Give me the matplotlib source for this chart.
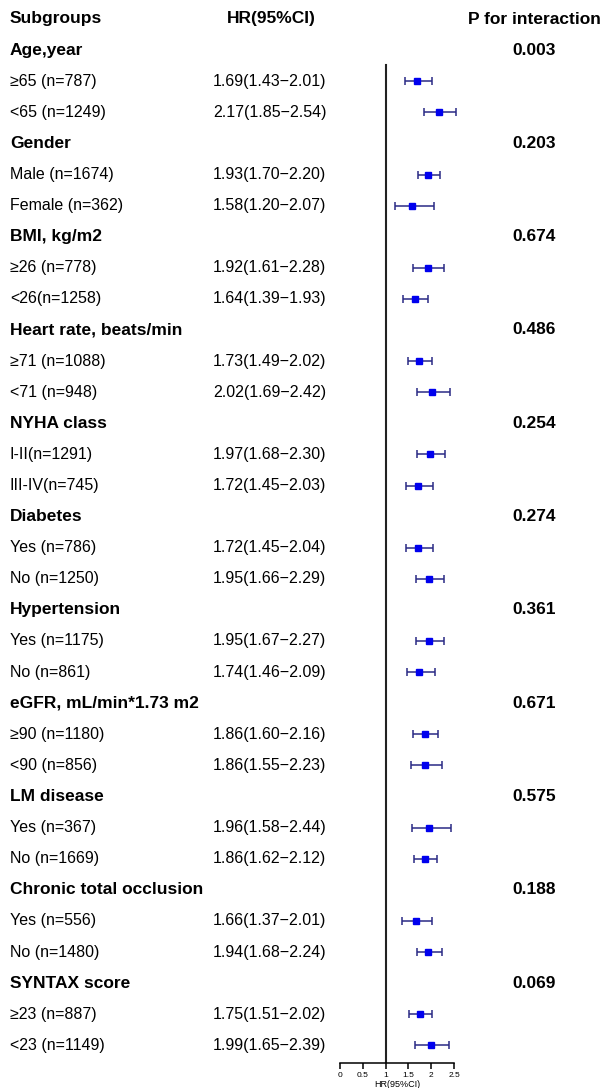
import matplotlib
matplotlib.use("Agg")
import matplotlib.pyplot as plt
import matplotlib.transforms as mtransforms

plt.rcParams['font.family'] = ['Liberation Sans', 'DejaVu Sans']

groups = ["Age,year", "Gender", "BMI, kg/m2", "Heart rate, beats/min", "NYHA class",
          "Diabetes", "Hypertension", "eGFR, mL/min*1.73 m2", "LM disease",
          "Chronic total occlusion", "SYNTAX score"]
p_interaction = ["0.003", "0.203", "0.674", "0.486", "0.254", "0.274", "0.361",
                 "0.671", "0.575", "0.188", "0.069"]
sub_labels = [
    ["≥65 (n=787)", "<65 (n=1249)"],
    ["Male (n=1674)", "Female (n=362)"],
    ["≥26 (n=778)", "<26(n=1258)"],
    ["≥71 (n=1088)", "<71 (n=948)"],
    ["I-II(n=1291)", "III-IV(n=745)"],
    ["Yes (n=786)", "No (n=1250)"],
    ["Yes (n=1175)", "No (n=861)"],
    ["≥90 (n=1180)", "<90 (n=856)"],
    ["Yes (n=367)", "No (n=1669)"],
    ["Yes (n=556)", "No (n=1480)"],
    ["≥23 (n=887)", "<23 (n=1149)"],
]
hr = [[1.69, 2.17], [1.93, 1.58], [1.92, 1.64], [1.73, 2.02], [1.97, 1.72],
      [1.72, 1.95], [1.95, 1.74], [1.86, 1.86], [1.96, 1.86], [1.66, 1.94],
      [1.75, 1.99]]
ci_low = [[1.43, 1.85], [1.70, 1.20], [1.61, 1.39], [1.49, 1.69], [1.68, 1.45],
          [1.45, 1.66], [1.67, 1.46], [1.60, 1.55], [1.58, 1.62], [1.37, 1.68],
          [1.51, 1.65]]
ci_high = [[2.01, 2.54], [2.20, 2.07], [2.28, 1.93], [2.02, 2.42], [2.30, 2.03],
           [2.04, 2.29], [2.27, 2.09], [2.16, 2.23], [2.44, 2.12], [2.01, 2.24],
           [2.02, 2.39]]
x_ticks = [0, 0.5, 1, 1.5, 2, 2.5]

W, H = 606, 1088
fig = plt.figure(figsize=(W / 100, H / 100), dpi=100)

row0_px, row_step = 19.0, 31.1
axis_px = 1063.0
x0_px, x_unit = 340.0, 45.6
ax = fig.add_axes([x0_px / W, (H - axis_px) / H, 2.5 * x_unit / W, axis_px / H])
ax.set_xlim(0, 2.5)
ax.set_ylim((axis_px - row0_px) / row_step, -row0_px / row_step)
ax.patch.set_alpha(0)
for s in ["top", "right", "left"]:
    ax.spines[s].set_visible(False)
ax.spines["bottom"].set_linewidth(1.1)
ax.set_yticks([])
ax.set_xticks(x_ticks)
ax.set_xticklabels([f"{t:g}" for t in x_ticks], fontsize=6)
ax.tick_params(axis="x", direction="out", length=4.5, width=1.1, pad=2)
ax.set_xlabel("HR(95%CI)", fontsize=6.5, labelpad=1)

trans = mtransforms.blended_transform_factory(fig.transFigure, ax.transData)
fs_bold = 12.5
fs = 11.5

ax.text(10 / W, 0, "Subgroups", transform=trans, fontsize=fs_bold, fontweight="bold",
        va="center", ha="left")
ax.text(227 / W, 0, "HR(95%CI)", transform=trans, fontsize=fs_bold, fontweight="bold",
        va="center", ha="left")
ax.text(534 / W, 0, "P for interaction", transform=trans, fontsize=fs_bold,
        fontweight="bold", va="center", ha="center")

ax.axvline(1, ymin=0, ymax=1 - 65 / axis_px, color="#222222", lw=1.5)

row = 1
for g, p, labs, h, lo, hi in zip(groups, p_interaction, sub_labels, hr, ci_low, ci_high):
    ax.text(10 / W, row, g, transform=trans, fontsize=fs_bold, fontweight="bold",
            va="center", ha="left")
    ax.text(534 / W, row, p, transform=trans, fontsize=fs_bold, fontweight="bold",
            va="center", ha="center")
    row += 1
    for lab, v, l, u in zip(labs, h, lo, hi):
        ax.text(10 / W, row, lab, transform=trans, fontsize=fs, va="center", ha="left")
        ax.text(213 / W, row, f"{v:.2f}({l:.2f}\u2212{u:.2f})", transform=trans,
                fontsize=fs, va="center", ha="left")
        ax.errorbar(v, row, xerr=[[v - l], [u - v]], fmt="none", ecolor="#2a2a85",
                    elinewidth=1.1, capsize=3.2, capthick=1.1, clip_on=False)
        ax.plot(v, row, marker="s", ms=5, color="#0000ee", mec="#0000ee",
                linestyle="none", clip_on=False, zorder=3)
        row += 1

fig.savefig("out.png", dpi=100)
